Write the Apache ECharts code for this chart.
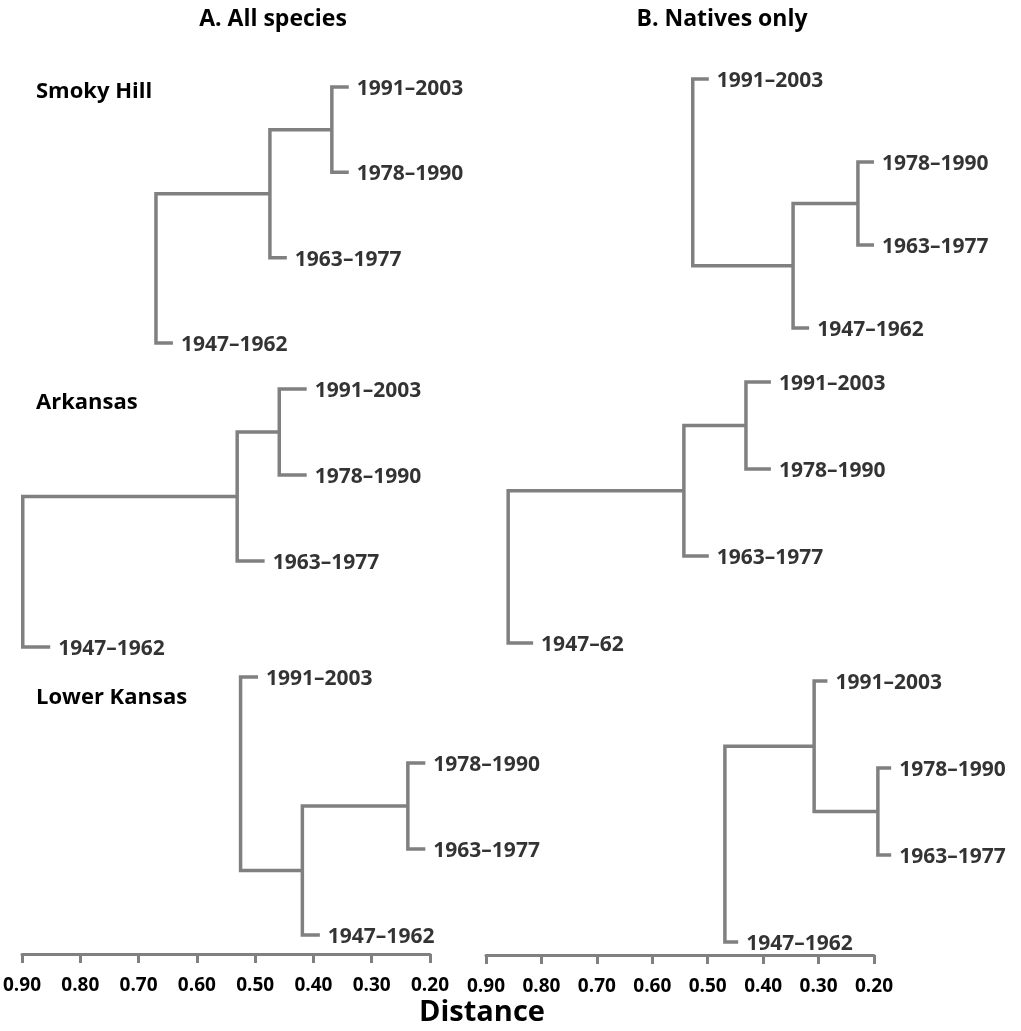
<!DOCTYPE html>
<html>
<head>
<meta charset="utf-8">
<script src="https://cdn.jsdelivr.net/npm/echarts@6/dist/echarts.min.js"></script>
<style>
  html, body { margin: 0; padding: 0; background: #fff; }
  #chart { width: 1021px; height: 1031px; }
</style>
</head>
<body>
<div id="chart"></div>
<script>
// leaves from top to bottom, per panel
const leavesSmokyA = ['1991–2003', '1978–1990', '1963–1977', '1947–1962']
const leavesArkA = ['1991–2003', '1978–1990', '1963–1977', '1947–1962']
const leavesLowerA = ['1991–2003', '1978–1990', '1963–1977', '1947–1962']
const leavesSmokyB = ['1991–2003', '1978–1990', '1963–1977', '1947–1962']
const leavesArkB = ['1991–2003', '1978–1990', '1963–1977', '1947–62']
const leavesLowerB = ['1991–2003', '1978–1990', '1963–1977', '1947–1962']

// merges: [child, child, distance]; leaves are 0..3, new clusters 4, 5, 6
const mergesSmokyA = [[0, 1, 0.368], [4, 2, 0.474], [5, 3, 0.669]]
const mergesArkA = [[0, 1, 0.458], [4, 2, 0.530], [5, 3, 0.897]]
const mergesLowerA = [[1, 2, 0.238], [4, 3, 0.419], [0, 5, 0.525]]
const mergesSmokyB = [[1, 2, 0.229], [4, 3, 0.346], [0, 5, 0.527]]
const mergesArkB = [[0, 1, 0.431], [4, 2, 0.543], [5, 3, 0.860]]
const mergesLowerB = [[1, 2, 0.193], [0, 4, 0.308], [5, 3, 0.469]]

const columnTitles = ['A. All species', 'B. Natives only']
const rowTitles = ['Smoky Hill', 'Arkansas', 'Lower Kansas']

const FONT = '"Open Sans", sans-serif'
const GREY = '#808080'
const INK = '#000'

const columns = [
  { left: 21, width: 409 },
  { left: 486, width: 388 }
]

// layout per panel; stub = length of the leaf ends, in distance units
const panels = [
  { leaves: leavesSmokyA, merges: mergesSmokyA, col: 0, top: 87, height: 256, stub: 0.029 },
  { leaves: leavesArkA, merges: mergesArkA, col: 0, top: 389, height: 258, stub: 0.047 },
  { leaves: leavesLowerA, merges: mergesLowerA, col: 0, top: 677, height: 258, stub: 0.03, axis: 19 },
  { leaves: leavesSmokyB, merges: mergesSmokyB, col: 1, top: 79, height: 249, stub: 0.029 },
  { leaves: leavesArkB, merges: mergesArkB, col: 1, top: 382, height: 261, stub: 0.045 },
  { leaves: leavesLowerB, merges: mergesLowerB, col: 1, top: 681, height: 261, stub: 0.024, axis: 13 }
]

const buildTree = (leaves, merges, stub) => {
  const n = leaves.length
  const h = []
  const y = []
  leaves.forEach((l, i) => { y[i] = i })
  merges.forEach(([a, b, d], k) => {
    h[n + k] = d
    y[n + k] = (y[a] + y[b]) / 2
  })
  const start = (c, d) => (c < n ? d - stub : h[c])
  const brackets = merges.map(([a, b, d]) => [
    start(a, d), y[a], d, y[a], d, y[b], start(b, d), y[b]
  ])
  // leaf tips for the labels
  const tips = []
  merges.forEach(([a, b, d]) => {
    [a, b].forEach(c => {
      if (c < n) tips.push({ value: [d - stub, y[c]], name: leaves[c] })
    })
  })
  return { brackets, tips }
}

const grid = []
const xAxis = []
const yAxis = []
const series = []

panels.forEach((p, i) => {
  const col = columns[p.col]
  grid.push({ left: col.left, width: col.width, top: p.top, height: p.height })
  const showAxis = p.axis !== undefined
  xAxis.push({
    type: 'value',
    gridIndex: i,
    position: 'bottom',
    inverse: true,
    min: 0.2,
    max: 0.9,
    interval: 0.1,
    show: showAxis,
    offset: showAxis ? p.axis : 0,
    splitLine: { show: false },
    axisLine: { show: true, onZero: false, lineStyle: { color: GREY, width: 3 } },
    axisTick: { show: true, length: 9, lineStyle: { color: GREY, width: 3 } },
    axisLabel: {
      show: true,
      margin: 22,
      fontFamily: FONT,
      fontWeight: 'bold',
      fontSize: 19,
      color: INK,
      formatter: v => v.toFixed(2)
    }
  })
  yAxis.push({
    type: 'value',
    gridIndex: i,
    inverse: true,
    min: 0,
    max: 3,
    show: false
  })

  const tree = buildTree(p.leaves, p.merges, p.stub)
  series.push({
    type: 'custom',
    xAxisIndex: i,
    yAxisIndex: i,
    silent: true,
    clip: false,
    encode: { x: [0, 2, 4, 6], y: [1, 3, 5, 7] },
    data: tree.brackets,
    renderItem: (params, api) => {
      const pts = []
      for (let k = 0; k < 4; k++) {
        pts.push(api.coord([api.value(k * 2), api.value(k * 2 + 1)]))
      }
      return {
        type: 'polyline',
        shape: { points: pts },
        style: { stroke: GREY, lineWidth: 3.5, fill: null, lineJoin: 'miter', lineCap: 'butt' }
      }
    }
  })
  series.push({
    type: 'scatter',
    xAxisIndex: i,
    yAxisIndex: i,
    silent: true,
    clip: false,
    symbolSize: 0,
    data: tree.tips,
    label: {
      show: true,
      position: 'right',
      distance: 8,
      offset: [0, 2],
      formatter: '{b}',
      fontFamily: FONT,
      fontWeight: 'bold',
      fontSize: 21,
      color: INK
    }
  })
})

const titleStyle = { fontFamily: FONT, fontWeight: 'bold', fontSize: 22, color: INK }
const headStyle = { fontFamily: FONT, fontWeight: 'bold', fontSize: 23, color: INK }

const title = [
  { text: columnTitles[0], left: 273, top: 8, padding: 0, textAlign: 'center', textStyle: headStyle },
  { text: columnTitles[1], left: 722, top: 8, padding: 0, textAlign: 'center', textStyle: headStyle },
  { text: rowTitles[0], left: 36, top: 81, padding: 0, textStyle: titleStyle },
  { text: rowTitles[1], left: 36, top: 392, padding: 0, textStyle: titleStyle },
  { text: rowTitles[2], left: 36, top: 687, padding: 0, textStyle: titleStyle },
  { text: 'Distance', left: 482, top: 998, padding: 0, textAlign: 'center',
    textStyle: { fontFamily: FONT, fontWeight: 'bold', fontSize: 29, color: INK } }
]

const chart = echarts.init(document.getElementById('chart'))
chart.setOption({
  backgroundColor: '#fff',
  animation: false,
  title,
  grid,
  xAxis,
  yAxis,
  series
})
</script>
</body>
</html>
